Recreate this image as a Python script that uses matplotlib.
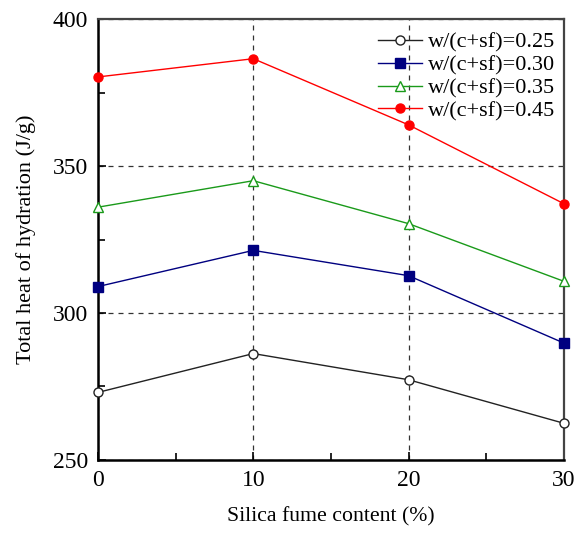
import matplotlib
matplotlib.use("Agg")
import matplotlib.pyplot as plt
from matplotlib.ticker import MultipleLocator

plt.rcParams['font.family'] = ['Liberation Serif', 'DejaVu Serif']
plt.rcParams['mathtext.fontset'] = 'stix'

silica_fume = [0, 10, 20, 30]
labels = ['w/(c+sf)=0.25', 'w/(c+sf)=0.30', 'w/(c+sf)=0.35', 'w/(c+sf)=0.45']
heat_025 = [273.0, 286.2, 277.3, 262.5]
heat_030 = [309.0, 321.3, 312.7, 289.8]
heat_035 = [336.0, 345.0, 330.4, 310.8]
heat_045 = [380.3, 386.5, 364.0, 337.2]
x_ticks = [0, 10, 20, 30]
y_ticks = [250, 300, 350, 400]

fig = plt.figure(figsize=(5.77, 5.48), dpi=100)
ax = fig.add_axes([0.170, 0.1606, 0.807, 0.8047])

styles = [
    dict(color='#222222', marker='o', mfc='white', mec='#222222'),
    dict(color='#000080', marker='s', mfc='#000080', mec='#000080'),
    dict(color='#1a9a1a', marker='^', mfc='white', mec='#1a9a1a'),
    dict(color='#ff0000', marker='o', mfc='#ff0000', mec='#ff0000'),
]
series = [heat_025, heat_030, heat_035, heat_045]
for vals, lab, st in zip(series, labels, styles):
    ax.plot(silica_fume, vals, label=lab, lw=1.0, ms=6.5, mew=1.0,
            clip_on=False, zorder=5, **st)

ax.set_xlim(0, 30)
ax.set_ylim(250, 400)
ax.set_xticks(x_ticks)
ax.set_yticks(y_ticks)
ax.xaxis.set_minor_locator(MultipleLocator(5))
ax.yaxis.set_minor_locator(MultipleLocator(25))
ax.tick_params(which='both', direction='in', labelsize=17, width=1.2)
ax.tick_params(which='major', length=6, pad=7)
ax.tick_params(which='minor', length=5)
ax.tick_params(axis='both', which='both', top=False, right=False)

ax.grid(True, which='major', linestyle=(0, (4, 4)), color='#333333', lw=0.9)

for s in ['left', 'bottom']:
    ax.spines[s].set_linewidth(1.8)
    ax.spines[s].set_color('black')
for s in ['top', 'right']:
    ax.spines[s].set_linewidth(1.6)
    ax.spines[s].set_color('#444444')
    ax.spines[s].set_linestyle((0, (3, 1)))

ax.set_xlabel('Silica fume content (%)', fontsize=15.7, labelpad=12)
ax.set_ylabel('Total heat of hydration (J/g)', fontsize=16, labelpad=12)

leg = ax.legend(loc='upper right', bbox_to_anchor=(1.0, 0.99), fontsize=16,
                frameon=False, handlelength=2.0, handletextpad=0.25,
                labelspacing=0.1, borderaxespad=0.0)

fig.savefig('out.png', dpi=100)
